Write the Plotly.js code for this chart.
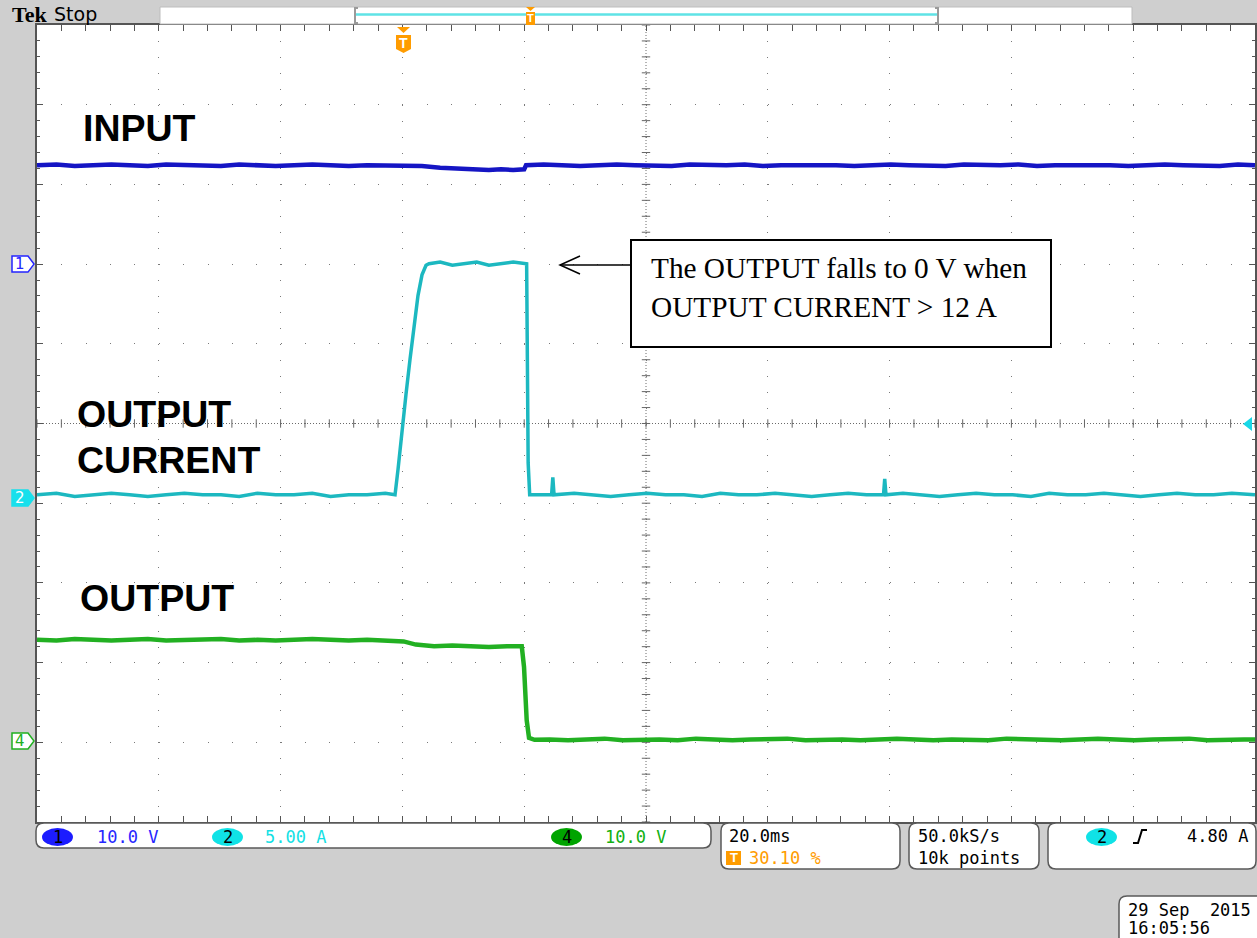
<!DOCTYPE html>
<html><head><meta charset="utf-8">
<script src="https://cdn.plot.ly/plotly-3.0.1.min.js"></script>
<style>html,body{margin:0;padding:0;background:#cfcfcf;}#chart{width:1257px;height:938px;}</style>
</head><body><div id="chart"></div>
<script>
// ---------------- DATA ----------------
// Channel 1: INPUT (V)
const ch1_time_ms = [-60.2,-57,-54,-51,-48,-45,-42,-39,-36,-33,-30,-27,-24,-21,-18,-15,-12,-9,-6,-3,0,
  3,6, 8,10,12,14,16,18, 19.8,20.1,
  23,26,29,32,35,38,41,44,47,50,53,56,59,62,65,68,71,74,77,80,83,86,89,92,95,98,101,104,107,110,113,116,119,122,125,128,131,134,137,
  139.8];
const ch1_volts = [12.4,12.5,12.3,12.4,12.5,12.4,12.3,12.5,12.4,12.4,12.3,12.5,12.4,12.3,12.4,12.5,12.4,12.3,12.4,12.4,12.3,
  12.3,12.1, 12.0,11.9,11.8,11.8,11.9,11.8, 11.9,12.4,
  12.5,12.4,12.3,12.4,12.5,12.4,12.4,12.3,12.5,12.4,12.4,12.5,12.3,12.4,12.4,12.5,12.4,12.3,12.4,12.5,12.4,12.4,12.3,12.5,12.4,12.4,12.5,12.3,12.4,12.4,12.5,12.4,12.3,12.4,12.5,12.4,12.4,12.3,12.5,
  12.4];
// Channel 2: OUTPUT CURRENT (A)
const ch2_time_ms = [-60.2,-57,-54,-51,-48,-45,-42,-39,-36,-33,-30,-27,-24,-21,-18,-15,-12,-9,-6,-3,-1.41,
  -0.92,-0.26,0.39,1.05,1.71,2.36,3.02,3.68,4.17,
  6,8,10,12,14,16,18,20.2,
  20.45,20.7,
  22,24.3,24.5,24.7,
  28,31,34,37,40,43,46,49,52,55,58,61,64,67,70,73,76,
  78.8,79.0,79.2,
  82,85,88,91,94,97,100,103,106,109,112,115,118,121,124,127,130,133,136,
  139.8];
const ch2_amps = [0.2,0.3,0.1,0.2,0.3,0.2,0.1,0.2,0.3,0.2,0.2,0.1,0.3,0.2,0.2,0.3,0.1,0.2,0.2,0.3,0.2,
  1.8,4.3,6.5,8.7,10.9,12.7,14.0,14.6,14.7,
  14.8,14.6,14.7,14.8,14.6,14.7,14.8,14.7,
  2.2,0.2,
  0.2,0.2,1.3,0.2,
  0.3,0.2,0.1,0.2,0.3,0.2,0.2,0.1,0.3,0.2,0.2,0.3,0.2,0.1,0.2,0.3,0.2,
  0.2,1.2,0.2,
  0.3,0.2,0.1,0.2,0.3,0.2,0.2,0.1,0.3,0.2,0.2,0.3,0.2,0.1,0.2,0.3,0.2,0.2,0.3,
  0.2];
// Channel 4: OUTPUT (V)
const ch4_time_ms = [-60.2,-57,-54,-51,-48,-45,-42,-39,-36,-33,-30,-27,-24,-21,-18,-15,-12,-9,-6,-3,0,
  2,5,8,11,14,17,19.4,
  19.77,20.21,20.59,
  21.5,
  24,27,30,33,36,39,42,45,48,51,54,57,60,63,66,69,72,75,78,81,84,87,90,93,96,99,102,105,108,111,114,117,120,123,126,129,132,135,138,
  139.8];
const ch4_volts = [12.7,12.6,12.8,12.7,12.6,12.7,12.8,12.6,12.7,12.7,12.8,12.6,12.7,12.6,12.7,12.8,12.7,12.6,12.7,12.6,12.5,
  12.1,11.9,12.0,11.9,11.8,11.9,11.9,
  9.3,2.6,0.4,
  0.15,0.2,0.1,0.2,0.3,0.1,0.2,0.2,0.1,0.3,
  0.2,0.1,0.2,0.2,0.3,0.1,0.2,0.2,0.1,0.2,
  0.3,0.2,0.1,0.2,0.2,0.1,0.3,0.2,0.2,0.1,
  0.2,0.3,0.2,0.1,0.2,0.2,0.3,0.1,0.2,0.2,
  0.2];

const traceLabels = ['INPUT', 'OUTPUT', 'CURRENT', 'OUTPUT'];
const calloutLines = ['The OUTPUT falls to 0 V when', 'OUTPUT CURRENT > 12 A'];
const statusCh = ['1', '2', '4'];
const statusScale = ['10.0 V', '5.00 A', '10.0 V'];
const horizText = ['20.0ms', '30.10 %'];
const acqText = ['50.0kS/s', '10k points'];
const trigText = ['2', '4.80 A'];
const dateText = ['29 Sep\u00a0 2015', '16:05:56'];

// ---------------- scope settings ----------------
const msPerDiv = 20, trigPos = 0.301;
const ch1 = {scale: 10, ground: 7.0};
const ch2 = {scale: 5, ground: 4.065};
const ch4 = {scale: 10, ground: 1.016};
const xRange = [-trigPos * 10 * msPerDiv, (1 - trigPos) * 10 * msPerDiv];
const yr = c => [-c.ground * c.scale, (10 - c.ground) * c.scale];

// pixel -> paper helpers (layout only)
const L = 37, R = 1255, T = 25, B = 822;
const X = p => (p - L) / (R - L);
const Y = p => (B - p) / (B - T);
const poly = pts => 'M' + pts.map(p => X(p[0]) + ',' + Y(p[1])).join(' L') + ' Z';
const open = pts => 'M' + pts.map(p => X(p[0]) + ',' + Y(p[1])).join(' L');
function rbox(x0, y0, x1, y1, r) {
  return `M${X(x0+r)},${Y(y0)} L${X(x1-r)},${Y(y0)} Q${X(x1)},${Y(y0)} ${X(x1)},${Y(y0+r)} L${X(x1)},${Y(y1-r)} Q${X(x1)},${Y(y1)} ${X(x1-r)},${Y(y1)} L${X(x0+r)},${Y(y1)} Q${X(x0)},${Y(y1)} ${X(x0)},${Y(y1-r)} L${X(x0)},${Y(y0+r)} Q${X(x0)},${Y(y0)} ${X(x0+r)},${Y(y0)} Z`;
}
const shapes = [];
const annos = [];
function pathShape(path, fill, line, lw, layer) {
  shapes.push({type: 'path', xref: 'paper', yref: 'paper', path: path, fillcolor: fill || 'rgba(0,0,0,0)',
    line: {color: line || 'rgba(0,0,0,0)', width: lw || 0}, layer: layer || 'above'});
}
function ell(x0, y0, x1, y1, fill) {
  shapes.push({type: 'circle', xref: 'paper', yref: 'paper', x0: X(x0), x1: X(x1), y0: Y(y1), y1: Y(y0),
    fillcolor: fill, line: {width: 0}, layer: 'above'});
}
function txt(text, x, y, size, color, family, extra) {
  annos.push(Object.assign({text: text, xref: 'paper', yref: 'paper', x: X(x), y: Y(y), xanchor: 'left', yanchor: 'middle',
    showarrow: false, font: {size: size, color: color, family: family}}, extra || {}));
}
const MONO = 'DejaVu Sans Mono, monospace';
const BOLDSANS = 'Liberation Sans, Arial, sans-serif';

// ---- top bar ----
txt('Tek', 10, 14, 22, '#000', 'Liberation Serif, serif', {font: {size: 22, color: '#000', family: 'Liberation Serif, serif', weight: 'bold'}});
txt('Stop', 52, 14, 19, '#000', 'DejaVu Sans, sans-serif');
pathShape(poly([[160,7],[1132,7],[1132,24],[160,24]]), '#ffffff', '#bdbdbd', 1);
pathShape(open([[356,14.5],[937,14.5]]), null, '#5fe3e6', 2.5);
pathShape(open([[358,8],[355,8],[355,23],[358,23]]), null, '#9a9a9a', 2);
pathShape(open([[935,8],[938,8],[938,23],[935,23]]), null, '#9a9a9a', 2);
pathShape(poly([[526,7],[535,7],[530.5,11]]), '#ff9c00', null, 0);
pathShape(poly([[526,12],[535,12],[535,25],[526,25]]), '#ff9c00', null, 0);
txt('T', 530.5, 18.5, 11, '#fff', BOLDSANS, {xanchor: 'center', font: {size: 11, color: '#fff', family: BOLDSANS, weight: 'bold'}});

// ---- trigger marker under top edge ----
pathShape(poly([[397,27],[410,27],[403.5,33]]), '#ff9c00', null, 0);
pathShape(poly([[396,35],[411,35],[411,49],[403.5,53],[396,49]]), '#ff9c00', null, 0);
txt('T', 403.5, 43, 14, '#fff', BOLDSANS, {xanchor: 'center', font: {size: 14, color: '#fff', family: BOLDSANS, weight: 'bold'}});

// ---- channel ground markers on the left ----
const gpx = c => B - (c.ground / 10) * (B - T);
function chMarker(c, label, fill, line, tcolor) {
  const y = gpx(c);
  pathShape(poly([[12,y-8],[28,y-8],[34,y],[28,y+8],[12,y+8]]), fill, line, 1.5);
  txt(label, 20, y, 15, tcolor, 'DejaVu Sans, sans-serif', {xanchor: 'center'});
}
chMarker(ch1, '1', '#ffffff', '#2424ff', '#2424ff');
chMarker(ch2, '2', '#18e0ec', '#18e0ec', '#ffffff');
chMarker(ch4, '4', '#ffffff', '#20b020', '#20b020');
// trigger level arrow (right)
pathShape(poly([[1252,417],[1252,431],[1243,424]]), '#18d8e8', null, 0);

// ---- trace labels ----
const lblFont = s => ({size: s, color: '#000', family: BOLDSANS, weight: 'bold'});
txt(traceLabels[0], 81, 127.5, 37.5, '#000', BOLDSANS, {font: lblFont(37.5)});
txt(traceLabels[1], 75, 414, 37.5, '#000', BOLDSANS, {font: lblFont(37.5)});
txt(traceLabels[2], 75, 460, 37.5, '#000', BOLDSANS, {font: lblFont(37.5)});
txt(traceLabels[3], 78, 598, 37.5, '#000', BOLDSANS, {font: lblFont(37.5)});

// ---- callout ----
pathShape(poly([[631,240],[1051,240],[1051,347],[631,347]]), '#ffffff', '#000000', 2);
pathShape(open([[631,265],[560,265]]), null, '#000', 1.5);
pathShape(open([[580,256],[560,265],[580,274]]), null, '#000', 1.5);
txt(calloutLines[0], 649, 268, 29.3, '#000', 'Liberation Serif, Times New Roman, serif');
txt(calloutLines[1], 649, 307, 29.3, '#000', 'Liberation Serif, Times New Roman, serif');

// ---- status bar ----
pathShape(rbox(36, 823, 711, 848, 8), '#ffffff', '#5a5a5a', 1.5);
pathShape(rbox(721, 823, 900, 869, 8), '#ffffff', '#5a5a5a', 1.5);
pathShape(rbox(909, 823, 1039, 869, 8), '#ffffff', '#5a5a5a', 1.5);
pathShape(rbox(1048, 823, 1256, 869, 8), '#ffffff', '#5a5a5a', 1.5);
pathShape(rbox(1119, 896, 1264, 946, 8), '#ffffff', '#5a5a5a', 1.5);
const chCols = [['#1c1cff', '#2626ff'], ['#10e2e6', '#14e0e4'], ['#00a400', '#12b012']];
const pillX = [42, 212, 551], scaleX = [95, 263, 603];
for (let i = 0; i < 3; i++) {
  ell(pillX[i], 828, pillX[i] + 31, 846, chCols[i][0]);
  txt(statusCh[i], pillX[i] + 15.5, 837, 17, '#000', MONO, {xanchor: 'center'});
  txt(statusScale[i], scaleX[i], 837, 17, chCols[i][1], MONO);
}
txt(horizText[0], 727, 836, 17, '#000', MONO);
pathShape(poly([[726,851],[741,851],[741,865],[726,865]]), '#ff9c00', null, 0);
txt('T', 733.5, 858, 13, '#fff', BOLDSANS, {xanchor: 'center', font: {size: 13, color: '#fff', family: BOLDSANS, weight: 'bold'}});
txt(horizText[1], 747, 858, 17, '#ff9c00', MONO);
txt(acqText[0], 916, 836, 17, '#000', MONO);
txt(acqText[1], 916, 858, 17, '#000', MONO);
ell(1086, 828, 1117, 846, '#10e2e6');
txt(trigText[0], 1101.5, 837, 17, '#000', MONO, {xanchor: 'center'});
pathShape(open([[1133,843],[1138,843],[1142,830],[1147,830]]), null, '#000', 2);
txt(trigText[1], 1250, 836, 17, '#000', MONO, {xanchor: 'right'});
txt(dateText[0], 1126, 910, 17, '#000', MONO);
txt(dateText[1], 1126, 928, 17, '#000', MONO);

// ---- graticule center lines (axis coordinates of the ch1 scale) ----
const y1r = yr(ch1);
const cx = (xRange[0] + xRange[1]) / 2, cy = (y1r[0] + y1r[1]) / 2;
shapes.push({type: 'line', xref: 'x', yref: 'y', x0: xRange[0], x1: xRange[1], y0: cy, y1: cy, line: {color: '#6a6a6a', width: 1, dash: '1px,2px'}, layer: 'below'});
shapes.push({type: 'line', xref: 'x', yref: 'y', x0: cx, x1: cx, y0: y1r[0], y1: y1r[1], line: {color: '#6a6a6a', width: 1, dash: '1px,2px'}, layer: 'below'});
const gx = [], gy = [], gs = [];
for (let k = 0; k <= 50; k++) { gx.push(xRange[0] + k * msPerDiv / 5); gy.push(cy); gs.push('line-ns'); }
for (let k = 0; k <= 50; k++) { gx.push(cx); gy.push(y1r[0] + k * ch1.scale / 5); gs.push('line-ew'); }

const traces = [
  {x: gx, y: gy, mode: 'markers', marker: {symbol: gs, size: 6, color: '#666', line: {width: 1, color: '#666'}}, hoverinfo: 'skip', showlegend: false},
  {x: ch1_time_ms, y: ch1_volts, yaxis: 'y', mode: 'lines', line: {color: '#1515c4', width: 4.5}, hoverinfo: 'skip', showlegend: false},
  {x: ch2_time_ms, y: ch2_amps, yaxis: 'y2', mode: 'lines', line: {color: '#1cb8c0', width: 3.5}, hoverinfo: 'skip', showlegend: false},
  {x: ch4_time_ms, y: ch4_volts, yaxis: 'y3', mode: 'lines', line: {color: '#22b022', width: 4.5}, hoverinfo: 'skip', showlegend: false}
];

const layout = {
  width: 1257, height: 938,
  margin: {l: L, r: 1257 - R, t: T, b: 938 - B, pad: 0},
  paper_bgcolor: '#cfcfcf', plot_bgcolor: '#ffffff',
  showlegend: false,
  xaxis: {range: xRange, tick0: xRange[0], dtick: msPerDiv, showgrid: true, gridcolor: '#7a7a7a', gridwidth: 1,
    griddash: '1px,14.94px', zeroline: false, showticklabels: false, ticks: 'inside', ticklen: 6, tickcolor: '#555',
    showline: true, linecolor: '#555', linewidth: 2, mirror: 'allticks', fixedrange: true,
    minor: {tick0: xRange[0], dtick: msPerDiv / 5, ticks: 'inside', ticklen: 3, tickcolor: '#555', showgrid: false}},
  yaxis: {range: y1r, tick0: 0, dtick: ch1.scale, showgrid: true, gridcolor: '#7a7a7a', gridwidth: 1,
    griddash: '1px,23.36px', zeroline: false, showticklabels: false, ticks: 'inside', ticklen: 6, tickcolor: '#555',
    showline: true, linecolor: '#555', linewidth: 2, mirror: 'allticks', fixedrange: true,
    minor: {dtick: ch1.scale / 5, ticks: 'inside', ticklen: 3, tickcolor: '#555', showgrid: false}},
  yaxis2: {range: yr(ch2), overlaying: 'y', visible: false, fixedrange: true},
  yaxis3: {range: yr(ch4), overlaying: 'y', visible: false, fixedrange: true},
  shapes: shapes,
  annotations: annos
};
Plotly.newPlot('chart', traces, layout, {displayModeBar: false, staticPlot: true});
</script></body></html>
